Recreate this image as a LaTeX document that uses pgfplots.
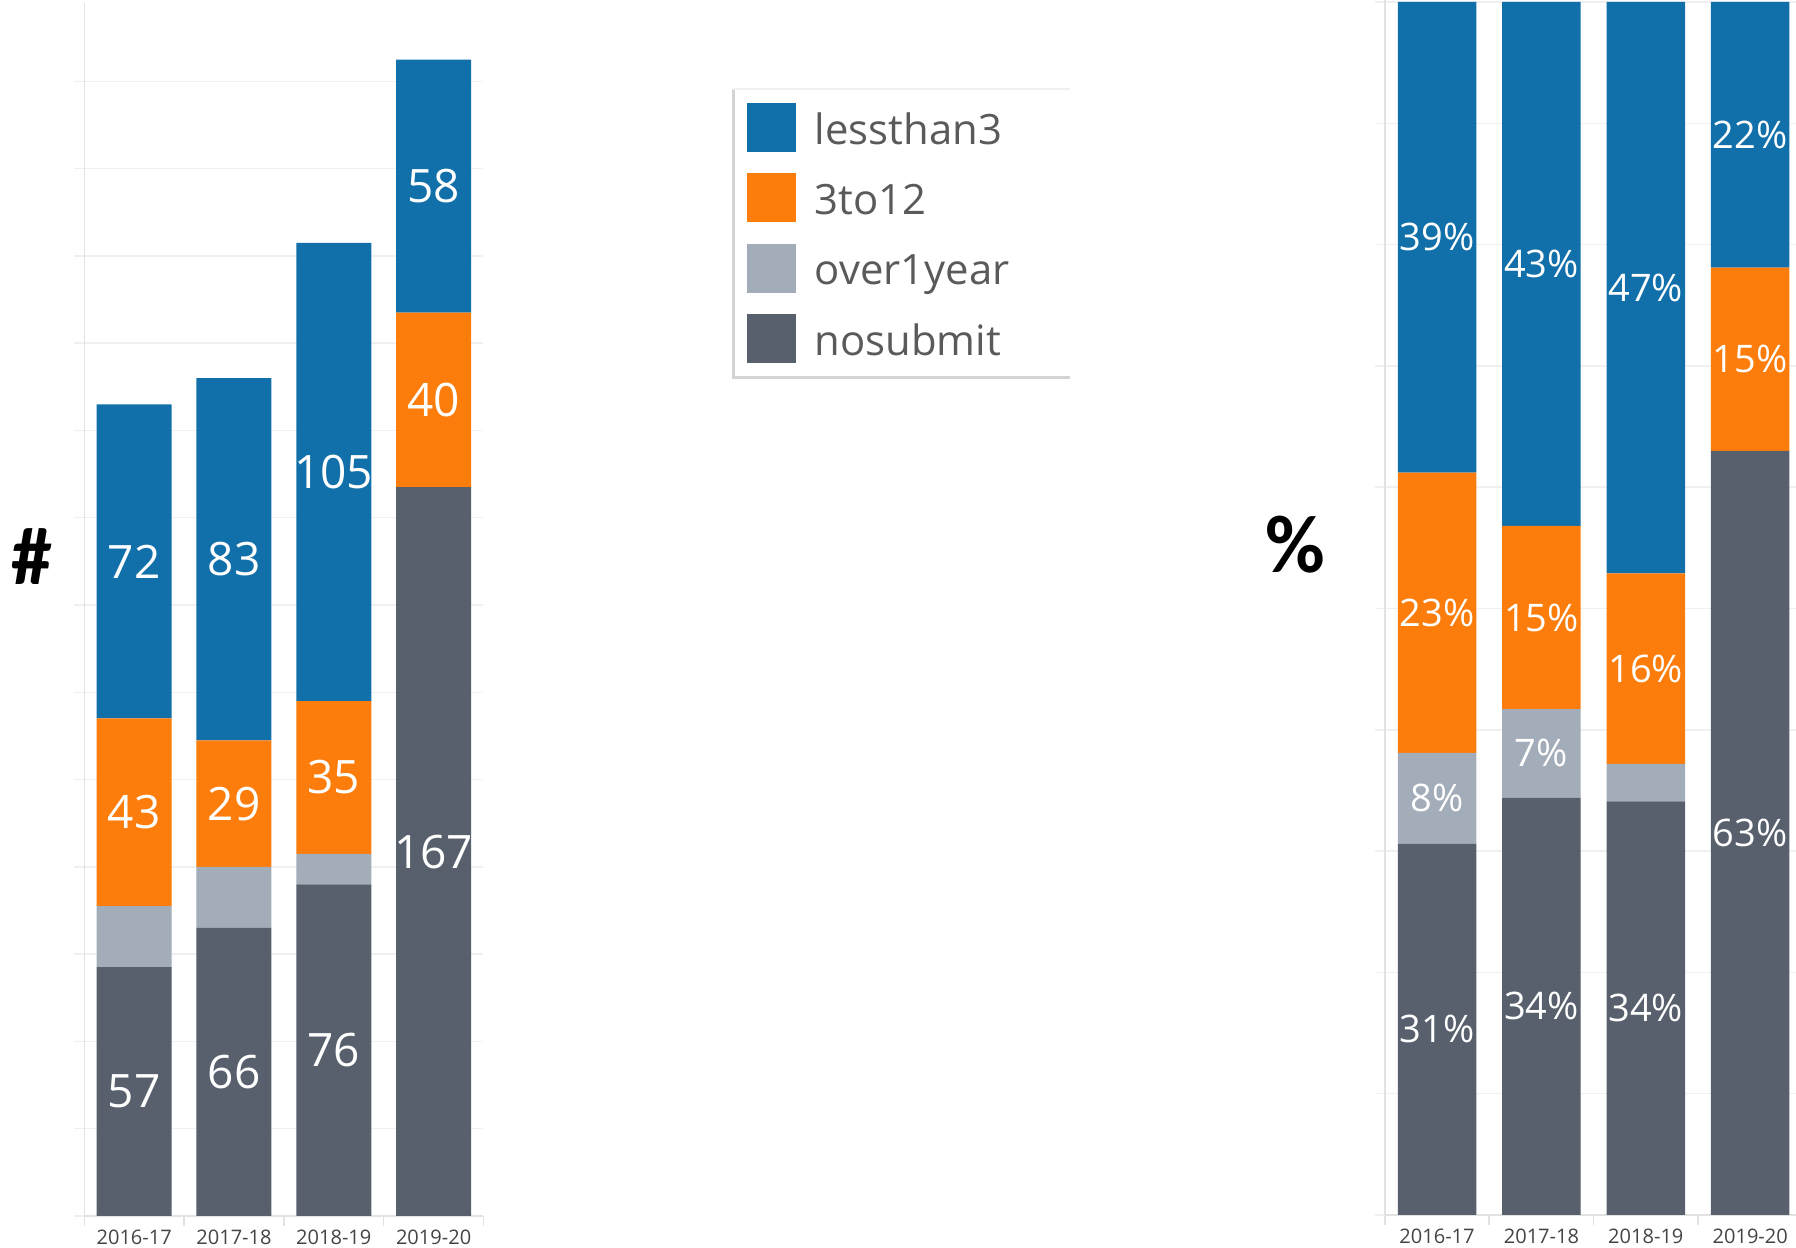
\documentclass[border=0pt]{standalone}
\usepackage{pgfplots}
\pgfplotsset{compat=1.18}
\usepackage{fontspec}
\setmainfont{Open Sans}
\newfontfamily\calb{Carlito}
\definecolor{cLess}{HTML}{1170AA}
\definecolor{cMid}{HTML}{FC7D0B}
\definecolor{cOver}{HTML}{A3ACB9}
\definecolor{cNo}{HTML}{57606C}
\definecolor{gridc}{HTML}{F0F0F0}
\definecolor{axc}{HTML}{E2E2E2}
\definecolor{tickc}{HTML}{444444}
\definecolor{legtext}{HTML}{5A5A5A}
\definecolor{legborder}{HTML}{D4D4D4}
\pgfplotsset{
  barbase/.style={
    ybar stacked,
    bar width=#1,
    xmin=-0.5, xmax=3.5, ymin=0,
    axis x line*=bottom, axis y line*=left,
    axis line style={draw=axc, line width=0.15mm},
    tick align=outside,
    major tick length=1mm,
    xtick={-0.5,0.5,1.5,2.5,3.5},
    xticklabels={},
    xtick style={draw=axc, line width=0.15mm},
    extra x ticks={0,1,2,3},
    extra x tick labels={2016-17,2017-18,2018-19,2019-20},
    extra x tick style={xtick style={draw=none}, xticklabel style={font=\fontsize{5.7}{6}\selectfont, text=tickc, anchor=center, yshift=-1.1mm}},
    yticklabels={},
    ytick style={draw=gridc, line width=0.15mm},
    ymajorgrids,
    grid style={draw=gridc, line width=0.15mm},
  },
  legsq/.style={legend image code/.code={\fill[##1, draw=none] (0mm,-2.45mm) rectangle (4.9mm,2.45mm);}},
  lab/.style={draw=none, mark=none, nodes near coords, point meta=explicit symbolic,
    nodes near coords style={anchor=center, text=white, inner sep=0pt, font=\fontsize{#1}{#1}\selectfont}},
}
\begin{document}
\begin{tikzpicture}
\useasboundingbox (0,0) rectangle (179.6mm,124.8mm);
% ---------- left: counts ----------
\begin{axis}[barbase=7.5mm,
  at={(8.43mm,3.2mm)}, anchor=south west,
  x=9.98mm, y=0.4364mm, ymax=278,
  ytick={0,20,...,260},
  legend style={at={(1.6593,0.9177)}, anchor=north west, draw=none, fill=none,
    inner sep=0pt, outer sep=0pt, row sep=2.15mm,
    nodes={inner sep=0pt, text=legtext, yshift=-0.4mm, font=\fontsize{11.9}{12}\selectfont},
    /tikz/every odd column/.append style={column sep=1.9mm}},
  legend cell align=left,
  reverse legend,
]
\addplot[fill=cNo, draw=none, legsq] coordinates {(0,57) (1,66) (2,76) (3,167)};
\addlegendentry{nosubmit}
\addplot[fill=cOver, draw=none, legsq] coordinates {(0,14) (1,14) (2,7) (3,0)};
\addlegendentry{over1year}
\addplot[fill=cMid, draw=none, legsq] coordinates {(0,43) (1,29) (2,35) (3,40)};
\addlegendentry{3to12}
\addplot[fill=cLess, draw=none, legsq] coordinates {(0,72) (1,83) (2,105) (3,58)};
\addlegendentry{lessthan3}
\end{axis}
\begin{axis}[at={(8.43mm,3.2mm)}, anchor=south west,
  x=9.98mm, y=0.4364mm, xmin=-0.5, xmax=3.5, ymin=0, ymax=278,
  hide axis, clip=false]
\addplot[lab=13.1] coordinates {
  (0,28.5)[57] (0,92.5)[43] (0,150)[72]
  (1,33)[66] (1,94.5)[29] (1,150.5)[83]
  (2,38)[76] (2,100.5)[35] (2,170.5)[105]
  (3,83.5)[167] (3,187)[40] (3,236)[58]};
\end{axis}
% legend frame
\draw[draw=legborder, line width=0.3mm] (73.3mm,115.9mm) -- (73.3mm,87.0mm) -- (107.0mm,87.0mm);
\draw[draw=gridc, line width=0.15mm] (73.3mm,115.9mm) -- (107.0mm,115.9mm);
% ---------- right: percent ----------
\begin{axis}[barbase=7.85mm,
  at={(138.48mm,3.3mm)}, anchor=south west,
  x=10.44mm, y=1.213mm, ymax=100.2,
  ytick={0,10,...,100},
]
\addplot[fill=cNo, draw=none] coordinates {(0,30.6) (1,34.4) (2,34.1) (3,63.0)};
\addplot[fill=cOver, draw=none] coordinates {(0,7.5) (1,7.3) (2,3.1) (3,0)};
\addplot[fill=cMid, draw=none] coordinates {(0,23.1) (1,15.1) (2,15.7) (3,15.1)};
\addplot[fill=cLess, draw=none] coordinates {(0,38.8) (1,43.2) (2,47.1) (3,21.9)};
\end{axis}
\begin{axis}[at={(138.48mm,3.3mm)}, anchor=south west,
  x=10.44mm, y=1.213mm, xmin=-0.5, xmax=3.5, ymin=0, ymax=100.2,
  hide axis, clip=false]
\addplot[lab=10.8] coordinates {
  (0,15.3)[31\%] (0,34.35)[8\%] (0,49.65)[23\%] (0,80.6)[39\%]
  (1,17.2)[34\%] (1,38.05)[7\%] (1,49.25)[15\%] (1,78.4)[43\%]
  (2,17.05)[34\%] (2,45.05)[16\%] (2,76.45)[47\%]
  (3,31.5)[63\%] (3,70.55)[15\%] (3,89.05)[22\%]};
\end{axis}
% side labels
\node[font=\calb\bfseries\fontsize{23.3}{24}\selectfont, inner sep=0pt] at (3.2mm,69.1mm) {\#};
\node[font=\calb\bfseries\fontsize{23.3}{24}\selectfont, inner sep=0pt] at (129.5mm,70.3mm) {\%};
\end{tikzpicture}
\end{document}
